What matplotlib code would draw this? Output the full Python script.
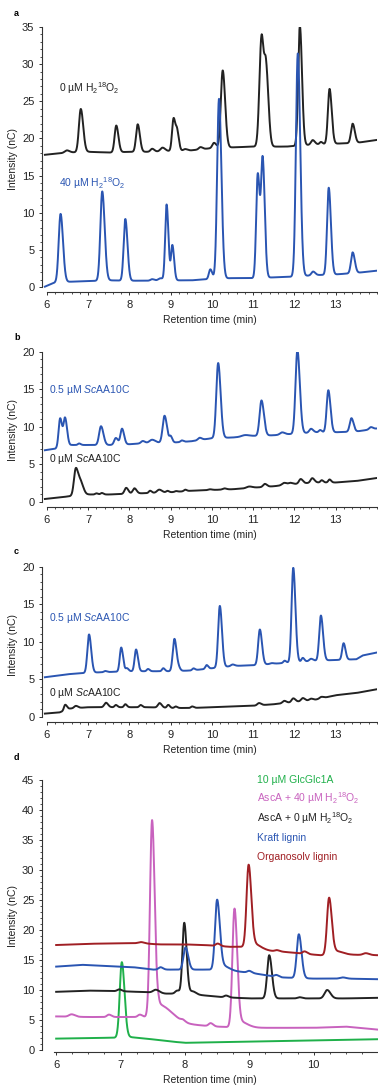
import numpy as np
import matplotlib
matplotlib.use("Agg")
import matplotlib.pyplot as plt
from matplotlib.ticker import MultipleLocator

plt.rcParams['font.family'] = ['Liberation Sans', 'DejaVu Sans']
plt.rcParams['mathtext.fontset'] = 'custom'
plt.rcParams['mathtext.rm'] = 'Liberation Sans'
plt.rcParams['mathtext.it'] = 'Liberation Sans:italic'
plt.rcParams['font.size'] = 7.5

BLACK = '#222222'
BLUE = '#2a55b2'
GREEN = '#1fb04a'
PINK = '#c862be'
DARKRED = '#a01f24'

# ---------------- panel a ----------------
a0_base_t = [5.95, 6.5, 7.0, 7.5, 8.0, 8.5, 9.0, 9.5, 10.0, 10.5, 11.0, 11.8, 12.5, 13.0, 13.5, 14.0]
a0_base_v = [17.8, 18.1, 18.2, 18.1, 18.2, 18.2, 18.3, 18.4, 18.7, 18.8, 18.9, 18.9, 19.2, 19.3, 19.4, 19.8]
a0_peaks = [(6.48, 0.3, 0.05), (6.82, 5.8, 0.045), (7.68, 3.6, 0.04), (8.20, 3.7, 0.04),
            (8.55, 0.4, 0.04), (8.80, 0.5, 0.05), (9.07, 4.4, 0.037), (9.16, 2.2, 0.032),
            (9.35, 0.2, 0.04), (9.72, 0.3, 0.04), (10.05, 0.7, 0.04), (10.26, 10.4, 0.045),
            (11.20, 14.5, 0.05, 0.05), (11.31, 10.5, 0.045), (12.13, 16.1, 0.04), (12.44, 0.6, 0.04),
            (12.64, 0.3, 0.03), (12.85, 7.4, 0.04), (13.41, 2.6, 0.04)]

a40_base_t = [5.95, 6.1, 6.2, 6.5, 7.0, 7.5, 8.0, 8.5, 9.0, 9.5, 10.0, 10.5, 11.0, 11.5, 12.0, 12.5, 13.0, 13.5, 14.0]
a40_base_v = [0.05, 0.4, 0.6, 0.7, 0.8, 0.9, 0.85, 0.85, 0.9, 0.9, 1.1, 1.2, 1.2, 1.3, 1.4, 1.6, 1.7, 1.9, 2.2]
a40_peaks = [(6.33, 9.2, 0.045), (7.34, 12.0, 0.045), (7.90, 8.3, 0.04), (8.55, 0.2, 0.04),
             (8.75, 0.3, 0.05), (8.90, 10.2, 0.034), (9.04, 4.7, 0.032), (9.96, 1.3, 0.035),
             (10.17, 24.2, 0.045), (11.11, 14.0, 0.038), (11.23, 15.6, 0.038), (12.08, 30.0, 0.045),
             (12.45, 0.5, 0.04), (12.83, 11.7, 0.04), (13.41, 2.8, 0.04)]

# ---------------- panel b ----------------
b05_base_t = [5.95, 6.2, 6.6, 7.0, 7.5, 8.0, 8.5, 9.0, 9.5, 10.0, 10.5, 11.0, 11.5, 12.0, 12.5, 13.0, 13.5, 14.0]
b05_base_v = [6.9, 7.1, 7.6, 7.6, 7.6, 7.7, 7.9, 7.9, 8.1, 8.5, 8.6, 8.8, 8.9, 9.1, 9.3, 9.3, 9.4, 9.8]
b05_peaks = [(6.32, 3.9, 0.037), (6.44, 3.7, 0.037), (6.78, 0.2, 0.03), (7.31, 2.5, 0.045),
             (7.67, 0.9, 0.04), (7.82, 2.1, 0.038), (8.32, 0.3, 0.04), (8.55, 0.4, 0.06),
             (8.85, 3.6, 0.045), (9.00, 0.8, 0.03), (9.27, 0.2, 0.03), (9.70, 0.3, 0.04),
             (10.15, 10.0, 0.045), (10.80, 0.2, 0.08), (11.20, 4.7, 0.045), (11.70, 0.3, 0.05),
             (12.07, 11.1, 0.045), (12.40, 0.5, 0.04), (12.62, 0.3, 0.03), (12.82, 5.6, 0.04),
             (13.38, 1.8, 0.04), (13.85, 0.3, 0.04)]

b0_base_t = [5.95, 6.3, 6.6, 7.0, 7.5, 8.0, 8.5, 9.0, 9.5, 10.0, 10.5, 11.0, 11.5, 12.0, 12.5, 13.0, 13.5, 14.0]
b0_base_v = [0.4, 0.6, 0.8, 1.0, 1.0, 1.1, 1.2, 1.3, 1.5, 1.6, 1.7, 1.9, 2.1, 2.4, 2.6, 2.6, 2.8, 3.2]
b0_peaks = [(6.70, 3.6, 0.045), (6.82, 1.6, 0.05), (7.20, 0.15, 0.03), (7.33, 0.2, 0.03),
            (7.92, 0.8, 0.04), (8.12, 0.7, 0.04), (8.50, 0.3, 0.03), (8.72, 0.4, 0.05),
            (8.92, 0.2, 0.03), (9.13, 0.1, 0.03), (9.35, 0.2, 0.03), (9.95, 0.1, 0.04),
            (10.30, 0.15, 0.04), (10.90, 0.2, 0.06), (11.28, 0.4, 0.04), (11.75, 0.3, 0.05),
            (11.90, 0.2, 0.04), (12.15, 0.6, 0.04), (12.43, 0.6, 0.04), (12.66, 0.3, 0.03),
            (12.85, 0.4, 0.03)]

# ---------------- panel c ----------------
c05_base_t = [5.95, 6.5, 7.0, 7.5, 8.0, 8.5, 9.0, 9.5, 10.0, 10.5, 11.0, 11.5, 12.0, 12.5, 13.0, 13.5, 13.65, 14.0]
c05_base_v = [5.3, 5.7, 5.9, 6.0, 6.1, 6.1, 6.1, 6.2, 6.5, 6.8, 6.9, 7.1, 7.3, 7.5, 7.6, 7.7, 8.2, 8.6]
c05_peaks = [(7.02, 5.1, 0.04), (7.41, 0.15, 0.03), (7.80, 3.2, 0.035), (7.94, 0.4, 0.03),
             (8.16, 2.9, 0.035), (8.45, 0.3, 0.03), (8.82, 0.4, 0.03), (9.09, 4.3, 0.04),
             (9.20, 0.3, 0.03), (9.55, 0.25, 0.03), (9.87, 0.5, 0.03), (10.19, 8.2, 0.04),
             (10.50, 0.2, 0.04), (11.16, 4.7, 0.04), (11.45, 0.1, 0.04), (11.76, 0.3, 0.03),
             (11.97, 12.6, 0.04), (12.20, 0.5, 0.03), (12.40, 0.3, 0.04), (12.64, 6.0, 0.04),
             (13.19, 2.2, 0.035)]

c0_base_t = [5.95, 6.3, 6.4, 6.5, 7.0, 7.5, 8.0, 8.5, 9.0, 9.5, 10.0, 10.5, 11.0, 11.5, 12.0, 12.5, 13.0, 13.5, 14.0]
c0_base_v = [0.45, 0.6, 0.8, 1.1, 1.3, 1.3, 1.3, 1.3, 1.2, 1.2, 1.3, 1.4, 1.5, 1.7, 2.0, 2.3, 2.9, 3.2, 3.7]
c0_peaks = [(6.44, 0.7, 0.03), (6.70, 0.3, 0.04), (7.43, 0.6, 0.04), (7.67, 0.3, 0.03),
            (7.90, 0.4, 0.03), (8.27, 0.3, 0.03), (8.73, 0.6, 0.04), (8.94, 0.4, 0.03),
            (9.12, 0.2, 0.03), (9.52, 0.2, 0.03), (11.14, 0.3, 0.04), (11.75, 0.3, 0.04),
            (11.97, 0.5, 0.04), (12.20, 0.4, 0.04), (12.40, 0.2, 0.04), (12.65, 0.2, 0.04)]

# ---------------- panel d ----------------
d_glc_base_t = [6.0, 6.5, 6.9, 7.1, 7.4, 7.8, 8.0, 8.5, 9.0, 9.5, 10.0, 10.5, 11.0]
d_glc_base_v = [1.9, 2.0, 2.05, 2.2, 1.9, 1.4, 1.2, 1.3, 1.4, 1.5, 1.6, 1.7, 1.8]
d_glc_peaks = [(7.02, 12.5, 0.032)]

d_asc40_base_t = [6.0, 6.5, 7.0, 7.4, 8.0, 8.5, 9.0, 10.0, 10.5, 11.0]
d_asc40_base_v = [5.6, 5.5, 5.5, 5.5, 4.3, 3.9, 3.7, 3.7, 3.9, 3.4]
d_asc40_peaks = [(6.24, 0.4, 0.04), (6.82, 0.4, 0.03), (7.30, 0.4, 0.03), (7.49, 33.0, 0.032),
                 (7.60, 2.5, 0.03, 0.2), (7.97, 0.3, 0.03), (8.40, 0.5, 0.03),
                 (8.77, 19.5, 0.032), (8.85, 1.0, 0.05, 0.12)]

d_asc0_base_t = [6.0, 6.5, 7.0, 7.5, 7.7, 8.0, 8.3, 8.6, 9.0, 9.5, 10.0, 10.5, 11.0]
d_asc0_base_v = [9.7, 9.9, 9.8, 9.6, 9.4, 9.4, 9.1, 8.8, 8.6, 8.6, 8.6, 8.6, 8.7]
d_asc0_peaks = [(6.98, 0.3, 0.03), (7.55, 0.5, 0.04), (7.88, 0.5, 0.03), (7.99, 11.8, 0.028),
                (8.12, 0.5, 0.04), (8.64, 0.3, 0.03), (9.31, 7.2, 0.032), (9.78, 0.2, 0.03),
                (10.21, 1.4, 0.04)]

d_kraft_base_t = [6.0, 6.4, 6.8, 7.2, 7.5, 7.8, 8.2, 8.4, 8.7, 9.0, 9.3, 9.5, 10.0, 10.5, 11.0]
d_kraft_base_v = [13.9, 14.2, 14.0, 13.8, 13.4, 13.4, 13.4, 13.4, 13.2, 12.9, 12.4, 12.1, 11.9, 11.9, 11.8]
d_kraft_peaks = [(7.62, 0.4, 0.03), (8.01, 3.7, 0.032), (8.50, 11.5, 0.032), (8.58, 0.8, 0.05, 0.1),
                 (9.00, 0.3, 0.03), (9.42, 0.3, 0.03), (9.77, 7.3, 0.032), (10.45, 0.2, 0.04)]

d_orga_base_t = [6.0, 6.5, 7.0, 7.3, 7.6, 8.0, 8.3, 8.7, 8.9, 9.2, 9.5, 9.8, 10.1, 10.5, 11.0]
d_orga_base_v = [17.5, 17.7, 17.8, 17.8, 17.6, 17.6, 17.5, 17.2, 17.2, 16.6, 16.4, 16.1, 15.8, 15.9, 15.8]
d_orga_peaks = [(7.32, 0.2, 0.04), (8.51, 0.4, 0.03), (8.99, 13.8, 0.032), (9.10, 0.8, 0.05, 0.1),
                (9.43, 0.2, 0.03), (9.86, 0.4, 0.03), (10.24, 9.5, 0.032), (10.35, 0.6, 0.05, 0.1),
                (10.81, 0.3, 0.04)]


def chromatogram(t, base_t, base_v, peaks):
    """Baseline through the knots plus skewed Gaussian peaks (slight tailing)."""
    y = np.interp(t, base_t, base_v)
    for p in peaks:
        c, h, wl = p[0], p[1], p[2]
        wr = p[3] if len(p) > 3 else 1.3 * wl
        w = np.where(t < c, wl, wr)
        y = y + h * np.exp(-0.5 * ((t - c) / w) ** 2)
    return y


W, H = 378, 1088
fig = plt.figure(figsize=(W / 100, H / 100), dpi=100)


def make_axes(top, bottom, left=42, right=377):
    return fig.add_axes([left / W, 1 - bottom / H, (right - left) / W, (bottom - top) / H])


def style(ax, xlim, ylim, xbounds, ybounds, xmajor, xminor, ymajor, yminor, ylabel_x):
    ax.set_xlim(*xlim)
    ax.set_ylim(*ylim)
    for s in ('top', 'right'):
        ax.spines[s].set_visible(False)
    ax.spines['bottom'].set_bounds(*xbounds)
    ax.spines['left'].set_bounds(*ybounds)
    for s in ('bottom', 'left'):
        ax.spines[s].set_linewidth(0.8)
        ax.spines[s].set_color('#333333')
    ax.xaxis.set_major_locator(MultipleLocator(xmajor))
    ax.xaxis.set_minor_locator(MultipleLocator(xminor))
    ax.yaxis.set_major_locator(MultipleLocator(ymajor))
    ax.yaxis.set_minor_locator(MultipleLocator(yminor))
    ax.tick_params(which='major', direction='out', length=2.5, width=0.7, color='#333333',
                   labelsize=8, pad=3, labelcolor='#222222')
    ax.tick_params(which='minor', direction='out', length=1.5, width=0.6, color='#333333')
    ax.set_xlabel('Retention time (min)', fontsize=7.5, labelpad=4, color='#222222')
    ax.set_ylabel('Intensity (nC)', fontsize=7.5, color='#222222')
    ax.yaxis.set_label_coords(ylabel_x, 0.5)


LW = 1.4

# panel a
t1 = np.linspace(5.95, 14.0, 4000)
ax_a = make_axes(27, 292)
ax_a.plot(t1, chromatogram(t1, a0_base_t, a0_base_v, a0_peaks), color=BLACK, lw=LW)
ax_a.plot(t1, chromatogram(t1, a40_base_t, a40_base_v, a40_peaks), color=BLUE, lw=LW)
style(ax_a, (5.88, 14.0), (-0.67, 35), (6, 14), (0, 35), 1, 0.2, 5, 1, -24 / 335)
ax_a.set_xticks(range(6, 14))
ax_a.text(6.29, 26.8, r'0 µM H$_2$$^{18}$O$_2$', color=BLACK, fontsize=7.5, va='center')
ax_a.text(6.29, 14.0, r'40 µM H$_2$$^{18}$O$_2$', color=BLUE, fontsize=7.5, va='center')

# panel b
ax_b = make_axes(352, 507)
ax_b.plot(t1, chromatogram(t1, b0_base_t, b0_base_v, b0_peaks), color=BLACK, lw=LW)
ax_b.plot(t1, chromatogram(t1, b05_base_t, b05_base_v, b05_peaks), color=BLUE, lw=LW)
style(ax_b, (5.88, 14.0), (-0.67, 20), (6, 14), (0, 20), 1, 0.2, 5, 1, -24 / 335)
ax_b.set_xticks(range(6, 14))
ax_b.text(6.05, 14.9, r'0.5 µM $Sc$AA10C', color=BLUE, fontsize=7.5, va='center')
ax_b.text(6.05, 5.7, r'0 µM $Sc$AA10C', color=BLACK, fontsize=7.5, va='center')

# panel c
ax_c = make_axes(567, 722)
ax_c.plot(t1, chromatogram(t1, c0_base_t, c0_base_v, c0_peaks), color=BLACK, lw=LW)
ax_c.plot(t1, chromatogram(t1, c05_base_t, c05_base_v, c05_peaks), color=BLUE, lw=LW)
style(ax_c, (5.88, 14.0), (-0.67, 20), (6, 14), (0, 20), 1, 0.2, 5, 1, -24 / 335)
ax_c.set_xticks(range(6, 14))
ax_c.text(6.05, 13.2, r'0.5 µM $Sc$AA10C', color=BLUE, fontsize=7.5, va='center')
ax_c.text(6.05, 3.2, r'0 µM $Sc$AA10C', color=BLACK, fontsize=7.5, va='center')

# panel d
t2 = np.linspace(6.0, 11.0, 4000)
ax_d = make_axes(780, 1052, right=378)
ax_d.plot(t2, chromatogram(t2, d_glc_base_t, d_glc_base_v, d_glc_peaks), color=GREEN, lw=LW)
ax_d.plot(t2, chromatogram(t2, d_asc40_base_t, d_asc40_base_v, d_asc40_peaks), color=PINK, lw=LW)
ax_d.plot(t2, chromatogram(t2, d_asc0_base_t, d_asc0_base_v, d_asc0_peaks), color=BLACK, lw=LW)
ax_d.plot(t2, chromatogram(t2, d_kraft_base_t, d_kraft_base_v, d_kraft_peaks), color=BLUE, lw=LW)
ax_d.plot(t2, chromatogram(t2, d_orga_base_t, d_orga_base_v, d_orga_peaks), color=DARKRED, lw=LW)
style(ax_d, (5.78, 11.0), (-0.33, 45), (5.97, 11), (0, 45), 1, 0.25, 5, 1, -24 / 336)
ax_d.set_xticks(range(6, 11))

legend_labels = ['10 µM GlcGlc1A', r'AscA + 40 µM H$_2$$^{18}$O$_2$', r'AscA + 0 µM H$_2$$^{18}$O$_2$',
                 'Kraft lignin', 'Organosolv lignin']
legend_colors = [GREEN, PINK, BLACK, BLUE, DARKRED]
legend_y = [45.0, 42.0, 38.7, 35.3, 32.2]
for lab, col, yy in zip(legend_labels, legend_colors, legend_y):
    ax_d.text(9.12, yy, lab, color=col, fontsize=7.5, va='center')

# panel letters
for letter, ypix in zip('abcd', [13, 337, 552, 757]):
    fig.text(14 / W, 1 - ypix / H, letter, fontsize=6.5, fontweight='bold', va='center', ha='left')

fig.savefig('out.png', dpi=100)
